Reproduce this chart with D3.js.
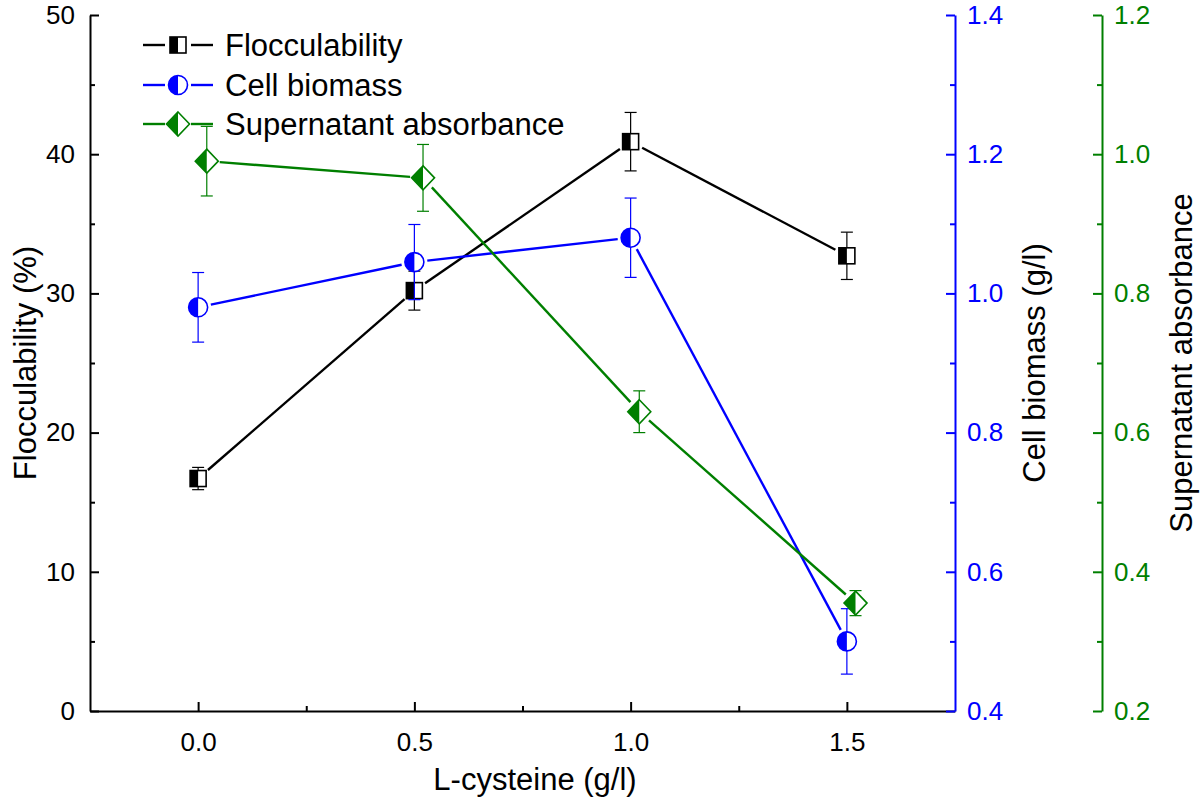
<!DOCTYPE html>
<html>
<head>
<meta charset="utf-8">
<script src="https://cdn.jsdelivr.net/npm/d3@7/dist/d3.min.js"></script>
<style>
  html, body { margin: 0; padding: 0; background: #fff; }
  svg { display: block; font-family: "Liberation Sans", Arial, sans-serif; }
</style>
</head>
<body>
<svg id="chart" width="1200" height="807"></svg>
<script>
// ---- data ----
const cysteine = [0, 0.5, 1.0, 1.5];
const flocculability = [16.7, 30.2, 40.9, 32.7];
const flocculabilityErr = [0.8, 1.4, 2.1, 1.7];
const biomass = [0.98, 1.045, 1.08, 0.50];
const biomassErr = [0.05, 0.054, 0.057, 0.047];
const absorbanceX = [0.02, 0.52, 1.02, 1.52];
const absorbance = [0.99, 0.966, 0.63, 0.355];
const absorbanceErr = [0.05, 0.048, 0.03, 0.018];

const xTicks = [0, 0.5, 1.0, 1.5];
const leftTicks = [0, 10, 20, 30, 40, 50];
const blueTicks = [0.4, 0.6, 0.8, 1.0, 1.2, 1.4];
const greenTicks = [0.2, 0.4, 0.6, 0.8, 1.0, 1.2];
const legendLabels = ["Flocculability", "Cell biomass", "Supernatant absorbance"];

const BLACK = "#000000", BLUE = "#0000ff", GREEN = "#007f00";

const svg = d3.select("#chart");
const L = 90, R = 955, T = 15, B = 711, G = 1102;
const TICK_FONT = 26, TITLE_FONT = 31;

const x = d3.scaleLinear().domain([-0.25, 1.75]).range([L, R]);
const yL = d3.scaleLinear().domain([0, 50]).range([B, T]);
const yB = d3.scaleLinear().domain([0.4, 1.4]).range([B, T]);
const yG = d3.scaleLinear().domain([0.2, 1.2]).range([B, T]);

function styleAxis(g, color, size) {
  g.select(".domain").attr("stroke", color).attr("stroke-width", 2);
  g.selectAll(".tick line").attr("stroke", color).attr("stroke-width", 2);
  g.selectAll(".tick text").attr("fill", color).style("font-size", size + "px")
    .style("font-family", '"Liberation Sans", Arial, sans-serif');
}
function minor(g, color) {
  g.select(".domain").remove();
  g.selectAll("line").attr("stroke", color).attr("stroke-width", 2);
}

// bottom axis (ticks inward)
const gx = svg.append("g").attr("transform", `translate(0,${B})`)
  .call(d3.axisBottom(x).tickValues(xTicks).tickFormat(d3.format(".1f"))
    .tickSizeInner(-9).tickSizeOuter(0).tickPadding(22));
styleAxis(gx, BLACK, TICK_FONT);
svg.append("g").attr("transform", `translate(0,${B})`)
  .call(d3.axisBottom(x).tickValues([0.25, 0.75, 1.25]).tickFormat("").tickSizeInner(-5).tickSizeOuter(0))
  .call(g => minor(g, BLACK));

// left axis
const gl = svg.append("g").attr("transform", `translate(${L},0)`)
  .call(d3.axisLeft(yL).tickValues(leftTicks).tickSizeInner(-9).tickSizeOuter(0).tickPadding(15));
styleAxis(gl, BLACK, TICK_FONT);
svg.append("g").attr("transform", `translate(${L},0)`)
  .call(d3.axisLeft(yL).tickValues([5, 15, 25, 35, 45]).tickFormat("").tickSizeInner(-5).tickSizeOuter(0))
  .call(g => minor(g, BLACK));

// blue axis
const gb = svg.append("g").attr("transform", `translate(${R},0)`)
  .call(d3.axisRight(yB).tickValues(blueTicks).tickFormat(d3.format(".1f"))
    .tickSizeInner(-9).tickSizeOuter(0).tickPadding(12));
styleAxis(gb, BLUE, TICK_FONT);
svg.append("g").attr("transform", `translate(${R},0)`)
  .call(d3.axisRight(yB).tickValues([0.5, 0.7, 0.9, 1.1, 1.3]).tickFormat("").tickSizeInner(-5).tickSizeOuter(0))
  .call(g => minor(g, BLUE));

// green axis
const gg = svg.append("g").attr("transform", `translate(${G},0)`)
  .call(d3.axisRight(yG).tickValues(greenTicks).tickFormat(d3.format(".1f"))
    .tickSizeInner(-9).tickSizeOuter(0).tickPadding(12));
styleAxis(gg, GREEN, TICK_FONT);
svg.append("g").attr("transform", `translate(${G},0)`)
  .call(d3.axisRight(yG).tickValues([0.3, 0.5, 0.7, 0.9, 1.1]).tickFormat("").tickSizeInner(-5).tickSizeOuter(0))
  .call(g => minor(g, GREEN));

// axis titles
svg.append("text").attr("x", 535).attr("y", 790).attr("text-anchor", "middle")
  .style("font-size", TITLE_FONT + "px").text("L-cysteine (g/l)");
svg.append("text").attr("transform", `translate(36,${(T + B) / 2}) rotate(-90)`).attr("text-anchor", "middle")
  .style("font-size", TITLE_FONT + "px").text("Flocculability (%)");
svg.append("text").attr("transform", `translate(1045,${(T + B) / 2}) rotate(-90)`).attr("text-anchor", "middle")
  .style("font-size", TITLE_FONT + "px").text("Cell biomass (g/l)");
svg.append("text").attr("transform", `translate(1192,${(T + B) / 2}) rotate(-90)`).attr("text-anchor", "middle")
  .style("font-size", TITLE_FONT + "px").text("Supernatant absorbance");

// markers
function drawMarker(g, type, cx, cy, color) {
  if (type === "square") {
    const s = 8;
    g.append("rect").attr("x", cx - s).attr("y", cy - s).attr("width", 2 * s).attr("height", 2 * s)
      .attr("fill", "#fff").attr("stroke", "none");
    g.append("rect").attr("x", cx - s).attr("y", cy - s).attr("width", s).attr("height", 2 * s)
      .attr("fill", color);
    g.append("rect").attr("x", cx - s).attr("y", cy - s).attr("width", 2 * s).attr("height", 2 * s)
      .attr("fill", "none").attr("stroke", color).attr("stroke-width", 1.6);
  } else if (type === "circle") {
    const r = 9.5;
    g.append("circle").attr("cx", cx).attr("cy", cy).attr("r", r).attr("fill", "#fff");
    g.append("path").attr("d", `M${cx},${cy - r} A${r},${r} 0 0 0 ${cx},${cy + r} Z`).attr("fill", color);
    g.append("circle").attr("cx", cx).attr("cy", cy).attr("r", r).attr("fill", "none")
      .attr("stroke", color).attr("stroke-width", 1.6);
  } else {
    const w = 11.5, h = 12;
    g.append("path").attr("d", `M${cx},${cy - h} L${cx + w},${cy} L${cx},${cy + h} L${cx - w},${cy} Z`).attr("fill", "#fff");
    g.append("path").attr("d", `M${cx},${cy - h} L${cx - w},${cy} L${cx},${cy + h} Z`).attr("fill", color);
    g.append("path").attr("d", `M${cx},${cy - h} L${cx + w},${cy} L${cx},${cy + h} L${cx - w},${cy} Z`)
      .attr("fill", "none").attr("stroke", color).attr("stroke-width", 1.6);
  }
}

const series = [
  { xs: cysteine, ys: flocculability, es: flocculabilityErr, y: yL, color: BLACK, type: "square" },
  { xs: cysteine, ys: biomass, es: biomassErr, y: yB, color: BLUE, type: "circle" },
  { xs: absorbanceX, ys: absorbance, es: absorbanceErr, y: yG, color: GREEN, type: "diamond" }
];

const gap = 13;
series.forEach(s => {
  const g = svg.append("g");
  const pts = s.xs.map((xv, i) => [x(xv), s.y(s.ys[i])]);
  for (let i = 0; i < pts.length - 1; i++) {
    const [x1, y1] = pts[i], [x2, y2] = pts[i + 1];
    const len = Math.hypot(x2 - x1, y2 - y1);
    const ux = (x2 - x1) / len, uy = (y2 - y1) / len;
    g.append("line").attr("x1", x1 + ux * gap).attr("y1", y1 + uy * gap)
      .attr("x2", x2 - ux * gap).attr("y2", y2 - uy * gap)
      .attr("stroke", s.color).attr("stroke-width", 2.4);
  }
  s.xs.forEach((xv, i) => {
    const cx = x(xv), top = s.y(s.ys[i] + s.es[i]), bot = s.y(s.ys[i] - s.es[i]);
    g.append("line").attr("x1", cx).attr("x2", cx).attr("y1", top).attr("y2", bot)
      .attr("stroke", s.color).attr("stroke-width", 1.2);
    [top, bot].forEach(yy => g.append("line").attr("x1", cx - 6).attr("x2", cx + 6).attr("y1", yy).attr("y2", yy)
      .attr("stroke", s.color).attr("stroke-width", 1.2));
  });
  pts.forEach(p => drawMarker(g, s.type, p[0], p[1], s.color));
});

// legend
const legendY = [45, 85, 124];
series.forEach((s, i) => {
  const g = svg.append("g");
  const yy = legendY[i];
  g.append("line").attr("x1", 143).attr("x2", 165).attr("y1", yy).attr("y2", yy).attr("stroke", s.color).attr("stroke-width", 2.4);
  g.append("line").attr("x1", 191).attr("x2", 213).attr("y1", yy).attr("y2", yy).attr("stroke", s.color).attr("stroke-width", 2.4);
  drawMarker(g, s.type, 178, yy, s.color);
  g.append("text").attr("x", 225).attr("y", yy + 11).style("font-size", "31px").attr("fill", "#000").text(legendLabels[i]);
});
</script>
</body>
</html>
